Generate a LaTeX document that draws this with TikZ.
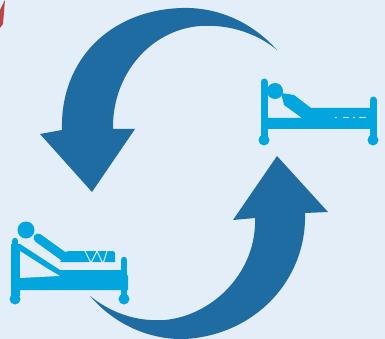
\documentclass[tikz,border=0pt]{standalone}
\usepackage{xcolor}
\definecolor{pagebg}{HTML}{E3EEF8}
\definecolor{arrowblue}{HTML}{1F6CA3}
\definecolor{bedblue}{HTML}{02A5DE}
\begin{document}
\begin{tikzpicture}[x=1pt, y=-1pt, bedline/.style={draw=bedblue, line cap=round, line join=round}, gapline/.style={draw=pagebg, line width=1pt}]
  \useasboundingbox (0,0) rectangle (385,339);
  \fill[pagebg] (0,0) rectangle (385,339);
  \fill[red!45!gray] (0,10) -- (5,0) -- (3,24) -- (0,28) -- cycle;
  % cycle arrows
  \fill[arrowblue] (277,50) .. controls (250,20) and (215,7) .. (182,8)
    .. controls (110,10) and (60,60) .. (62,130) -- (40,134) -- (92,192) -- (135,129) -- (113,129)
    .. controls (112,75) and (150,30) .. (200,26) .. controls (230,24) and (258,34) .. (277,50) -- cycle;
  \fill[arrowblue] (90,296) .. controls (115,325) and (150,340) .. (185,339)
    .. controls (255,335) and (307,280) .. (305,213) -- (328,212) -- (277,156) -- (233,220) -- (255,218)
    .. controls (257,270) and (215,315) .. (165,320) .. controls (135,322) and (110,312) .. (90,296) -- cycle;
  % bed with patient
  \fill[bedblue] (26,230) circle (8.5);
  \draw[bedline, line width=9pt] (38,238) -- (63,256) -- (110,256);
  \fill[bedblue] (68,251) -- (113,251) -- (115,253) -- (115,262) -- (60,262) -- cycle;
  \draw[gapline] (85,251) -- (91,263) -- (97,251) -- (103,264) -- (107,251);
  \fill[bedblue] (11,244) -- (20,244) -- (60,270) -- (123,270) -- (128,276) -- (128,290) -- (20,290) -- (20,296) -- (11,296) -- cycle;
  \fill[pagebg] (20,253) -- (20,278) -- (60,276) -- cycle;
  \fill[bedblue] (20,251) -- (58,276) -- (121,276) -- (121,277) -- (20,278) -- cycle;
  \fill[pagebg] (20,251) -- (59,276) -- (20,278) -- cycle;
  \draw[bedline, line width=6.5pt] (15,241) -- (15,298);
  \draw[bedline, line width=6.5pt] (124,260) -- (124,298);
  \fill[bedblue] (15,299) circle (5.5) (124,299) circle (5.5);
  % bed with covered patient
  \draw[bedline, line width=7pt] (264,82) -- (264,138);
  \draw[bedline, line width=7pt] (373,100) -- (373,138);
  \fill[bedblue] (264,140) circle (5.5) (373,140) circle (5.5);
  \fill[bedblue] (275,91) circle (8);
  \fill[bedblue] (281,93) -- (294,95) -- (311,108) -- (373,108) -- (373,129) -- (264,129) -- (264,118) -- (302,118) -- (284,105) -- cycle;
  \draw[draw=pagebg, line width=0.8pt, dash pattern=on 2pt off 6pt on 6pt off 4pt on 2pt off 4pt on 7pt off 20pt] (335,117.5) -- (371,117.5);
\end{tikzpicture}
\end{document}
